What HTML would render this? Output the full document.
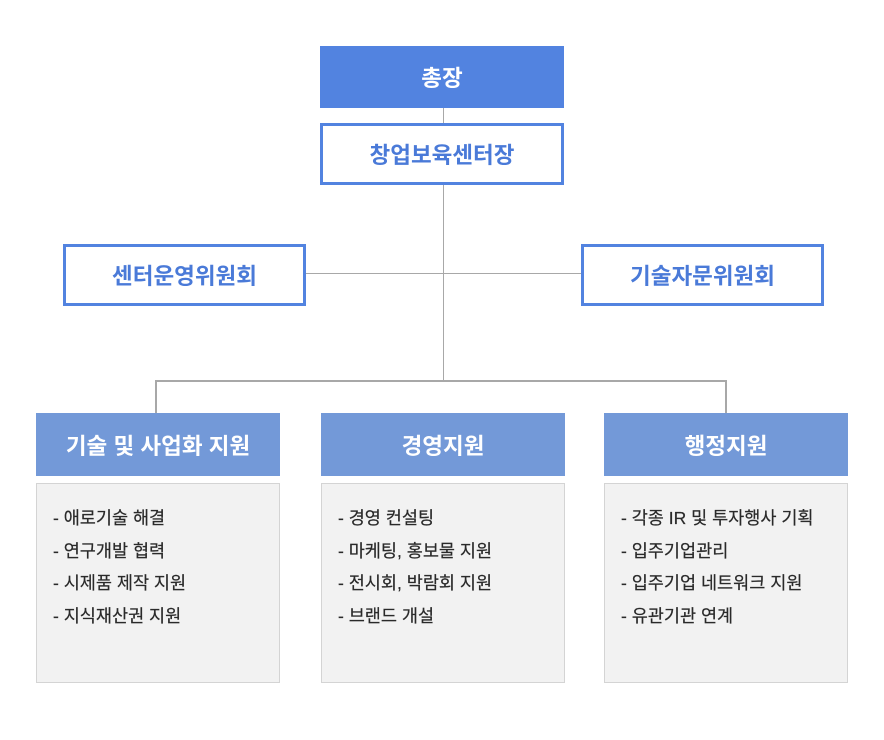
<!DOCTYPE html>
<html><head><meta charset="utf-8"><style>
body{margin:0;width:884px;height:740px;background:#fff;position:relative;font-family:"Liberation Sans","Noto Sans CJK KR",sans-serif;overflow:hidden}
.b{position:absolute;box-sizing:border-box;display:flex;align-items:center;justify-content:center;font-weight:bold;font-size:22.5px}
.l{position:absolute;background:#a8a8a8}
.c{position:absolute;box-sizing:border-box;background:#f2f2f2;border:1px solid #d4d4d4;padding:18px 0 0 16px;font-size:17.5px;color:#2a2a2a;line-height:32.5px;-webkit-text-stroke:0.2px #2a2a2a}
</style></head><body>
<div class="l" style="left:443px;top:108px;width:1px;height:273px"></div>
<div class="l" style="left:305px;top:273px;width:276px;height:1px"></div>
<div class="l" style="left:155px;top:380px;width:571px;height:2px"></div>
<div class="l" style="left:155px;top:380px;width:2px;height:33px"></div>
<div class="l" style="left:725px;top:380px;width:2px;height:33px"></div>
<div class="b" style="left:320px;top:46px;width:244px;height:62px;background:#5283e0;color:#fff">총장</div>
<div class="b" style="left:320px;top:123px;width:244px;height:62px;border:3px solid #5283e0;color:#4a7ad8;background:#fff">창업보육센터장</div>
<div class="b" style="left:63px;top:244px;width:243px;height:62px;border:3px solid #5283e0;color:#4a7ad8;background:#fff">센터운영위원회</div>
<div class="b" style="left:581px;top:244px;width:243px;height:62px;border:3px solid #5283e0;color:#4a7ad8;background:#fff">기술자문위원회</div>
<div class="b" style="left:36px;top:413px;width:244px;height:63px;background:#7399d8;color:#fff">기술 및 사업화 지원</div>
<div class="b" style="left:321px;top:413px;width:244px;height:63px;background:#7399d8;color:#fff">경영지원</div>
<div class="b" style="left:604px;top:413px;width:244px;height:63px;background:#7399d8;color:#fff">행정지원</div>
<div class="c" style="left:36px;top:483px;width:244px;height:200px">- 애로기술 해결<br>- 연구개발 협력<br>- 시제품 제작 지원<br>- 지식재산권 지원</div>
<div class="c" style="left:321px;top:483px;width:244px;height:200px">- 경영 컨설팅<br>- 마케팅, 홍보물 지원<br>- 전시회, 박람회 지원<br>- 브랜드 개설</div>
<div class="c" style="left:604px;top:483px;width:244px;height:200px">- 각종 IR 및 투자행사 기획<br>- 입주기업관리<br>- 입주기업 네트워크 지원<br>- 유관기관 연계</div>
</body></html>
